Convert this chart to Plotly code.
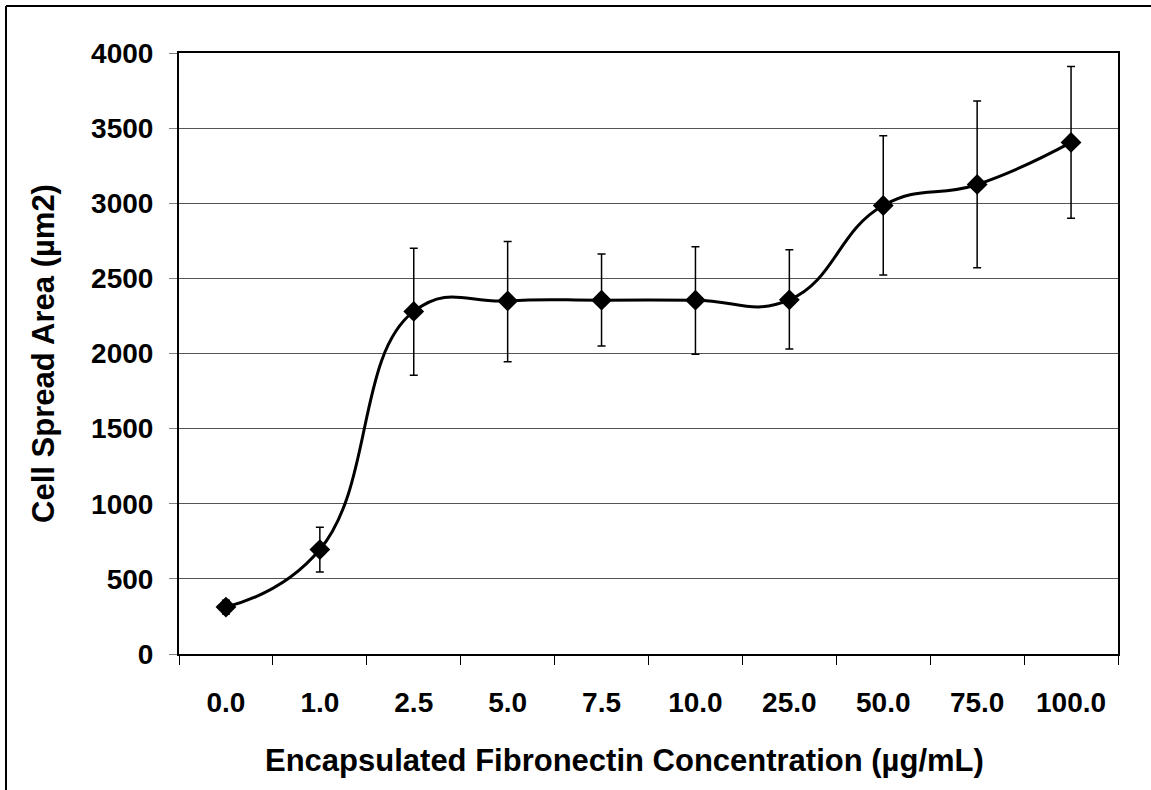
import plotly.graph_objects as go

categories = ["0.0", "1.0", "2.5", "5.0", "7.5", "10.0", "25.0", "50.0", "75.0", "100.0"]
mean_area = [312, 695, 2280, 2350, 2355, 2355, 2357, 2985, 3125, 3405]
err_plus = [45, 148, 420, 395, 308, 355, 333, 465, 555, 505]
err_minus = [45, 150, 425, 405, 305, 360, 327, 462, 555, 505]
y_ticks = [0, 500, 1000, 1500, 2000, 2500, 3000, 3500, 4000]

W, H = 1151, 790
L, R, T, B = 179, 1118, 53, 654   # plot area pixel edges

font = "Liberation Sans, Arial, sans-serif"

fig = go.Figure()
fig.add_trace(go.Scatter(
    x=categories, y=mean_area, mode="lines+markers",
    line=dict(color="black", width=3, shape="spline", smoothing=1.3),
    marker=dict(symbol="diamond", size=16, color="black"),
    error_y=dict(type="data", symmetric=False, array=err_plus, arrayminus=err_minus,
                 color="black", thickness=1.5, width=4),
    showlegend=False,
))


def px_x(p):
    return (p - L) / (R - L)


def px_y(p):
    return (B - p) / (B - T)


fig.update_layout(
    width=W, height=H,
    margin=dict(l=L, r=W - R, t=T, b=H - B, pad=0),
    paper_bgcolor="white", plot_bgcolor="white",
    font=dict(family=font, size=20, color="black"),
    xaxis=dict(
        type="category", tickson="boundaries", ticks="outside", ticklen=9,
        tickwidth=1, tickcolor="black",
        showline=True, linecolor="black", linewidth=2, mirror=True,
        showgrid=False,
        tickfont=dict(family=font, size=28, color="black", weight="bold"),
        ticklabelstandoff=22,
        range=[-0.5, 9.5],
    ),
    yaxis=dict(
        range=[0, 4000], tickvals=y_ticks, ticks="outside", ticklen=8,
        tickwidth=1, tickcolor="#808080",
        showline=True, linecolor="black", linewidth=2, mirror=True,
        showgrid=True, gridcolor="#555555", gridwidth=1,
        zeroline=False,
        tickfont=dict(family=font, size=28, color="black", weight="bold"),
        title=dict(text="<b>Cell Spread Area (µm2)</b>",
                   font=dict(family=font, size=31, color="black"), standoff=27),
        ticklabelstandoff=10,
    ),
    annotations=[
        dict(text="<b>Encapsulated Fibronectin Concentration (µg/mL)</b>",
             xref="paper", yref="paper", x=px_x(624), y=px_y(760),
             xanchor="center", yanchor="middle", showarrow=False,
             font=dict(family=font, size=31, color="black")),
    ],
    shapes=[
        dict(type="line", xref="paper", yref="paper",
             x0=px_x(6), x1=px_x(W), y0=px_y(6), y1=px_y(6),
             line=dict(color="black", width=2)),
        dict(type="line", xref="paper", yref="paper",
             x0=px_x(6), x1=px_x(6), y0=px_y(6), y1=px_y(H),
             line=dict(color="black", width=2)),
    ],
)

fig.write_html("out.html")
